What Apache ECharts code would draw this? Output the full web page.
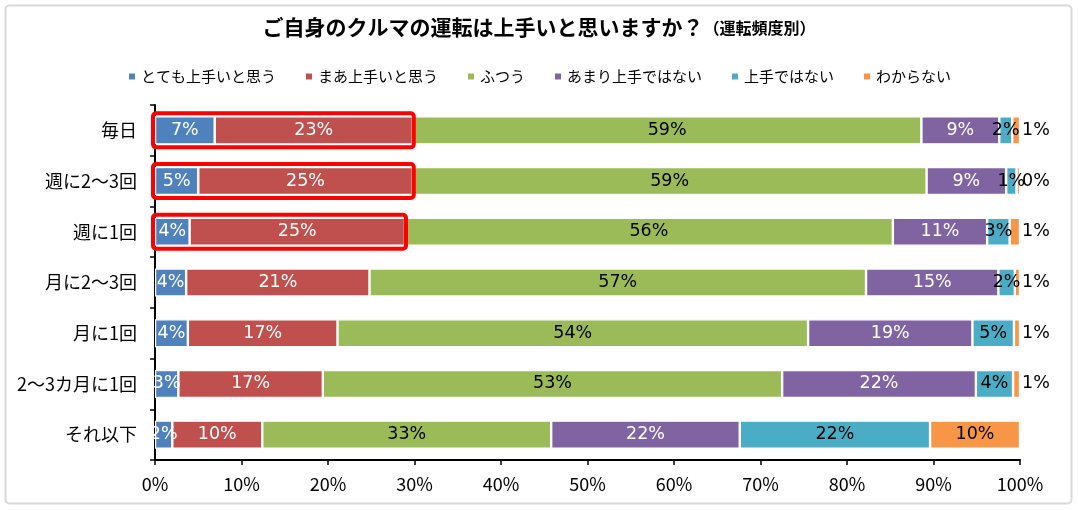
<!DOCTYPE html>
<html><head><meta charset="utf-8">
<script src="https://cdn.jsdelivr.net/npm/echarts@6/dist/echarts.min.js"></script>
<style>html,body{margin:0;padding:0;background:#fff}#c{width:1078px;height:510px}</style>
</head><body><div id="c"></div>
<script>
const categories = ['毎日','週に2〜3回','週に1回','月に2〜3回','月に1回','2〜3カ月に1回','それ以下'];
const seriesNames = ['とても上手いと思う','まあ上手いと思う','ふつう','あまり上手ではない','上手ではない','わからない'];
const veryGood   = [6.9, 5.0, 4.0, 3.6, 3.8, 2.7, 2.0];
const fairlyGood = [22.9, 24.8, 24.9, 21.2, 17.3, 16.7, 10.4];
const normal     = [58.8, 59.4, 56.4, 57.4, 54.4, 53.1, 33.4];
const notVery    = [9.0, 9.2, 10.9, 15.3, 19.0, 22.4, 21.8];
const notGood    = [1.5, 1.2, 2.6, 1.9, 4.8, 4.3, 22.0];
const unknown    = [0.9, 0.4, 1.2, 0.6, 0.7, 0.8, 10.4];
const highlighted = [0, 1, 2];

const colors = ['#4F81BD','#C0504D','#9BBB59','#8064A2','#4BACC6','#F79646'];
const labelColors = ['#fff','#fff','#000','#fff','#000','#000'];
const allData = [veryGood, fairlyGood, normal, notVery, notGood, unknown];
const LF = 'DejaVu Sans, Verdana, sans-serif';
const JF = '"Noto Sans CJK JP", sans-serif';

const series = allData.map((arr, i) => ({
  name: seriesNames[i], type: 'bar', stack: 'total', barWidth: 28,
  itemStyle: { color: colors[i], borderColor: '#fff', borderWidth: 1.2 },
  label: { show: true, position: 'inside', color: labelColors[i], fontFamily: LF, fontSize: 17.5,
    formatter: p => Math.round(p.value) + '%' },
  data: arr.map(v => (i === 5 && v < 5) ? { value: v, label: { position: 'right', offset: [-3, 0], color: '#000' } } : v)
}));

series.push({
  type: 'custom', name: 'box', z: 10, silent: true,
  encode: { x: 0, y: 1 },
  data: highlighted.map(ci => [veryGood[ci] + fairlyGood[ci], ci]),
  renderItem: (params, api) => {
    const ci = api.value(1);
    const p0 = api.coord([0, ci]);
    const p1 = api.coord([api.value(0), ci]);
    return { type: 'rect', shape: { x: p0[0] - 2, y: p0[1] - 17, width: p1[0] - p0[0] + 3, height: 34, r: 3 },
      style: { fill: 'none', stroke: '#FF0000', lineWidth: 4 } };
  }
});

const chart = echarts.init(document.getElementById('c'));
chart.setOption({
  animation: false,
  graphic: [{ type: 'rect', shape: { x: 5.5, y: 5.5, width: 1066, height: 498, r: 4 }, style: { fill: 'none', stroke: '#d9d9d9', lineWidth: 2 } }],
  title: { left: 'center', top: 12,
    text: '{a|ご自身のクルマの運転は上手いと思いますか？}{b|（運転頻度別）}',
    textStyle: { rich: {
      a: { fontFamily: JF, fontSize: 21, fontWeight: 'bold', color: '#000' },
      b: { fontFamily: JF, fontSize: 16, fontWeight: 'bold', color: '#000' } } } },
  legend: { top: 64, left: 'center', data: seriesNames, icon: 'rect', itemWidth: 8, itemHeight: 8, itemGap: 28,
    textStyle: { fontFamily: JF, fontSize: 15, color: '#000' } },
  grid: { left: 155, right: 58, top: 105, bottom: 50 },
  xAxis: { type: 'value', min: 0, max: 100, interval: 10,
    axisLine: { show: true, lineStyle: { color: '#000', width: 2 } },
    axisTick: { show: true, length: 5, lineStyle: { color: '#000', width: 1.5 } },
    splitLine: { show: false },
    axisLabel: { fontFamily: JF, fontSize: 18, color: '#000', margin: 15, formatter: v => v + '%' } },
  yAxis: { type: 'category', data: categories, inverse: true,
    axisLine: { show: true, lineStyle: { color: '#000', width: 2 } },
    axisTick: { show: true, length: 5, lineStyle: { color: '#000', width: 1.5 } },
    axisLabel: { fontFamily: JF, fontSize: 18, color: '#000', margin: 18 } },
  series: series
});
</script></body></html>
